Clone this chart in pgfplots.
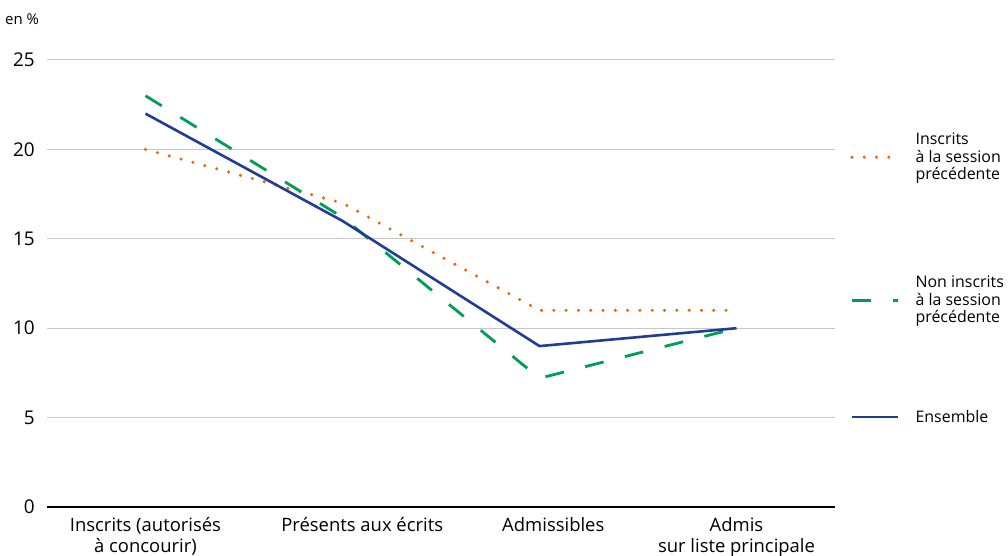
\documentclass[border=0pt]{standalone}
\usepackage{pgfplots}
\pgfplotsset{compat=1.18}
\usepackage{fontspec}
\setmainfont{Open Sans}
\definecolor{cOr}{RGB}{240,100,10}
\definecolor{cGr}{RGB}{0,158,85}
\definecolor{cBl}{RGB}{32,60,148}
\begin{document}
\begin{tikzpicture}
\path[use as bounding box] (-47bp,-49bp) rectangle (961bp,507bp);
\begin{axis}[
  at={(0,0)}, anchor=south west,
  scale only axis, width=788bp, height=447bp,
  xmin=-0.5, xmax=3.5, ymin=0, ymax=25,
  ytick={0,5,10,15,20,25},
  ymajorgrids, grid style={draw=black!22, line width=1bp},
  xtick={0,1.1,2.07,3},
  xticklabels={{Inscrits (autorisés\\à concourir)},{Présents aux écrits},{Admissibles},{Admis\\sur liste principale}},
  x tick label style={align=center, font=\fontsize{18.5}{21}\selectfont, anchor=north, inner sep=0pt, yshift=-10bp},
  y tick label style={font=\fontsize{19}{21}\selectfont, anchor=east, inner sep=0pt, xshift=-12bp},
  major tick length=0pt,
  axis x line*=bottom, axis y line*=left,
  y axis line style={draw=none},
  x axis line style={-, black, line width=1.2bp},
  /pgf/number format/assume math mode=true,
  legend style={draw=none, fill=none, inner sep=0pt, at={(1.019,0.9575)}, anchor=north west,
    font=\fontsize{16}{17.5}\selectfont, row sep=0bp, column sep=16bp,
    cells={anchor=west}, nodes={align=left, inner sep=0pt}},
  legend image code/.code={\draw[#1] (0bp,0bp) -- (46bp,0bp);},
]
\addplot[cOr, line width=3.4bp, line cap=round, dash pattern=on 0bp off 12.3bp] coordinates {(0,20) (1,17) (2,11) (3,11)};
\addlegendentry[minimum height=156bp]{Inscrits\\à la session\\précédente}
\addplot[cGr, line width=2.8bp, dash pattern=on 19bp off 22bp] coordinates {(0,23) (1,16.2) (2,7.2) (3,10)};
\addlegendentry[minimum height=130bp]{Non inscrits\\à la session\\précédente}
\addplot[cBl, line width=2.6bp] coordinates {(0,22) (1,16) (2,9) (3,10)};
\addlegendentry[minimum height=104bp]{Ensemble}
\end{axis}
\node[anchor=west, inner sep=0pt, font=\fontsize{15}{17}\selectfont] at (-42bp,488bp) {en \%};
\end{tikzpicture}
\end{document}
